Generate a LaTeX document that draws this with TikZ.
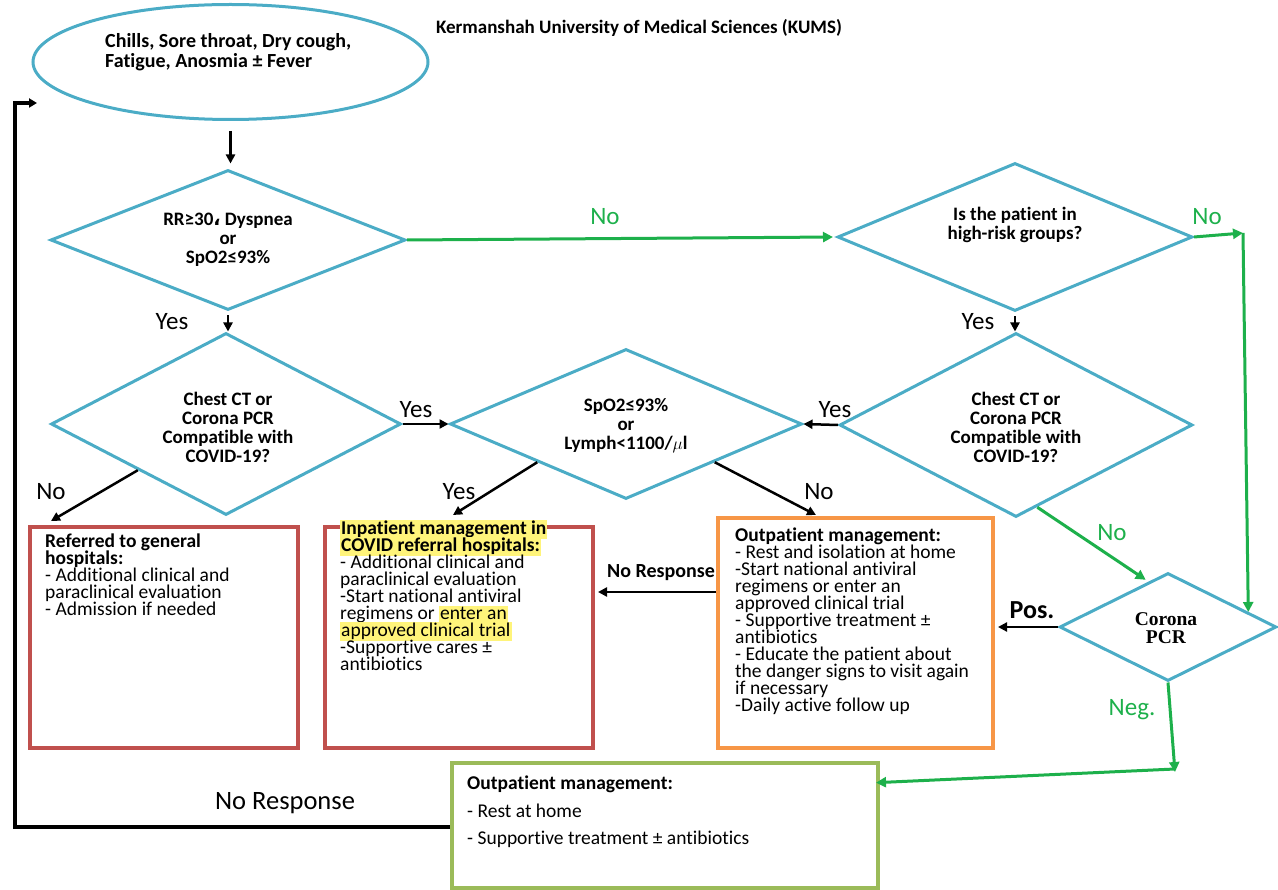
\documentclass[tikz,border=0pt]{standalone}
\usepackage{fontspec}
\setmainfont{Carlito}[Ligatures=NoCommon]
\newfontfamily\serifb{Liberation Serif}
\newfontfamily\dvs{DejaVu Sans}
\usetikzlibrary{shapes.geometric,arrows.meta,calc}
\definecolor{cy}{HTML}{4BACC6}
\definecolor{rd}{HTML}{C0504D}
\definecolor{org}{HTML}{F79646}
\definecolor{gbox}{HTML}{9BBB59}
\definecolor{ga}{HTML}{1DB04B}
\definecolor{hly}{HTML}{FFF47A}
\newcommand\hlt[1]{{\setlength{\fboxsep}{1pt}\smash{\colorbox{hly}{\rule[-4pt]{0pt}{15.5pt}#1}}}}
\begin{document}
\begin{tikzpicture}[x=1pt,y=-1pt,
  dia/.style={draw=cy,line width=3pt,shape=diamond,inner sep=0pt},
  boxn/.style={rectangle,line width=4pt,inner sep=0pt},
  blk/.style={draw=black,line width=2.5pt,-{Triangle[length=9pt,width=9pt]}},
  grn/.style={draw=ga,line width=3pt,-{Triangle[length=10pt,width=10pt]}},
  lbl/.style={inner sep=0pt,font=\fontsize{25}{25}\selectfont},
  glbl/.style={lbl,text=ga},
  btext/.style={anchor=north west,align=left,inner sep=0pt,font=\fontsize{19.5}{17}\selectfont},
  dtext/.style={align=center,inner sep=0pt,font=\bfseries\fontsize{19}{19}\selectfont}]
\useasboundingbox (0,0) rectangle (1278,890);

% title
\node[inner sep=0pt,font=\bfseries\fontsize{19}{19}\selectfont] (title) at (639,28) {Kermanshah University of Medical Sciences (KUMS)};

% ellipse
\node[draw=cy,line width=3pt,ellipse,minimum width=395pt,minimum height=115pt,inner sep=0pt] (ell) at (230.5,62) {};
\node[anchor=north west,align=left,inner sep=0pt,font=\bfseries\fontsize{20}{20}\selectfont] (elltxt) at (105,33) {Chills, Sore throat, Dry cough,\\Fatigue, Anosmia \textpm{} Fever};

% diamonds
\node[dia,minimum width=355pt,minimum height=140pt] (d1) at (228,240) {};
\node[dtext] (d1t) at (228,240) {RR≥30{\dvs ،} Dyspnea\\or\\SpO2≤93\%};
\node[dia,minimum width=350pt,minimum height=182pt] (d2) at (226,424) {};
\node[dtext] (d2t) at (228,427) {Chest CT or\\Corona PCR\\Compatible with\\COVID-19?};
\node[dia,minimum width=352pt,minimum height=150pt] (d3) at (626,424) {};
\node[dtext] (d3t) at (626,426) {SpO2≤93\%\\or\\Lymph<1100/$\mu$l};
\node[dia,minimum width=355pt,minimum height=148pt] (d4) at (1015,237) {};
\node[dtext] (d4t) at (1015,225) {Is the patient in\\high-risk groups?};
\node[dia,minimum width=353pt,minimum height=184pt] (d5) at (1016,425) {};
\node[dtext] (d5t) at (1016,427) {Chest CT or\\Corona PCR\\Compatible with\\COVID-19?};
\node[dia,minimum width=217pt,minimum height=108pt] (pcr) at (1168,627) {};
\node[align=center,inner sep=0pt,font=\serifb\bfseries\fontsize{19.5}{18}\selectfont] (pcrt) at (1166,628) {Corona\\PCR};

% boxes
\node[boxn,draw=rd,minimum width=268pt,minimum height=221pt] (b1) at (164,637.5) {};
\node[btext] (b1t) at (45,534) {\textbf{Referred to general}\\\textbf{hospitals:}\\- Additional clinical and\\paraclinical evaluation\\- Admission if needed};
\node[boxn,draw=rd,minimum width=268pt,minimum height=221pt] (b2) at (459,637.5) {};
\node[btext] (b2t) at (340,534) {\hlt{\textbf{Inpatient management in}}\\\hlt{\textbf{COVID referral hospitals:}}\\- Additional clinical and\\paraclinical evaluation\\-Start national antiviral\\regimens or \hlt{enter an}\\\hlt{approved clinical trial}\\-Supportive cares \textpm\\antibiotics};
\node[boxn,draw=org,minimum width=275pt,minimum height=230pt] (ob) at (855.5,633) {};
\node[btext] (obt) at (735,528) {\textbf{Outpatient management:}\\- Rest and isolation at home\\-Start national antiviral\\regimens or enter an\\approved clinical trial\\- Supportive treatment \textpm\\antibiotics\\- Educate the patient about\\the danger signs to visit again\\if necessary\\-Daily active follow up};
\node[boxn,draw=gbox,minimum width=426pt,minimum height=125pt] (gb) at (665,825.5) {};
\node[btext,font=\fontsize{19.5}{27.5}\selectfont] (gbt) at (467,776) {\textbf{Outpatient management:}\\- Rest at home\\- Supportive treatment \textpm{} antibiotics};

% connectors
\draw[blk,shorten <=10pt,shorten >=5pt] (ell.south) -- (ell.south |- d1.north);
\draw[blk,shorten <=4pt] (d1.south) -- (d1.south |- d2.north);
\draw[grn,shorten >=3pt] (d1.east) -- (d4.west);
\coordinate (c1) at (1243,233);
\draw[grn] (d4.east) -- (c1);
\draw[grn] (c1) -- ($(pcr.north)!0.73!(pcr.east)$);
\draw[blk,shorten <=4pt] (d4.south) -- (d4.south |- d5.north);
\draw[blk] (d2.east) -- (d3.west);
\draw[blk] (d5.west) -- (d3.east);
\draw[blk] (d2.south west) -- ([xshift=23pt,yshift=4pt]b1.north west);
\draw[blk] (d3.south west) -- ([xshift=130pt,yshift=10pt]b2.north west);
\draw[blk] (d3.south east) -- ([xshift=100pt,yshift=1pt]ob.north west);
\draw[grn,shorten >=3pt] ($(d5.south)!0.12!(d5.east)$) -- ($(pcr.north)!0.18!(pcr.west)$);
\draw[blk,shorten >=3pt] (pcr.west) -- (pcr.west -| ob.east);
\coordinate (o1) at ([yshift=41pt]ob.west);
\draw[blk,shorten >=3pt] (o1) -- (o1 -| b2.east);
\coordinate (n1) at (1175,772);
\draw[grn] (pcr.south) -- (n1);
\draw[grn,shorten >=-4pt] ([yshift=3pt]n1) -- ([yshift=43pt]gb.east);
\coordinate (r0) at ([yshift=-1.5pt]gb.west);
\coordinate (r1) at (15,827);
\coordinate (r2) at (15,103);
\coordinate (r3) at (37,103);
\draw[line width=4pt,-{Triangle[length=8pt,width=9pt]}] (r0) -- (r1) -- (r2) -- (r3);

% labels
\node[glbl] (l1) at (605,217) {No};
\node[glbl] (l2) at (1207,217) {No};
\node[lbl] (l3) at (172,322) {Yes};
\node[lbl] (l4) at (978,322) {Yes};
\node[lbl] (l5) at (416,410) {Yes};
\node[lbl] (l6) at (835,410) {Yes};
\node[lbl] (l7) at (51,492) {No};
\node[lbl] (l8) at (459,492) {Yes};
\node[lbl] (l9) at (819,492) {No};
\node[glbl] (l10) at (1112,533) {No};
\node[lbl,font=\bfseries\fontsize{26}{26}\selectfont] (l11) at (1032,610) {Pos.};
\node[glbl] (l12) at (1132,710) {Neg.};
\node[inner sep=0pt,font=\bfseries\fontsize{20}{20}\selectfont] (l13) at (661,573) {No Response};
\node[inner sep=0pt,font=\fontsize{26.5}{26.5}\selectfont] (l14) at (285,803) {No Response};
\end{tikzpicture}
\end{document}
